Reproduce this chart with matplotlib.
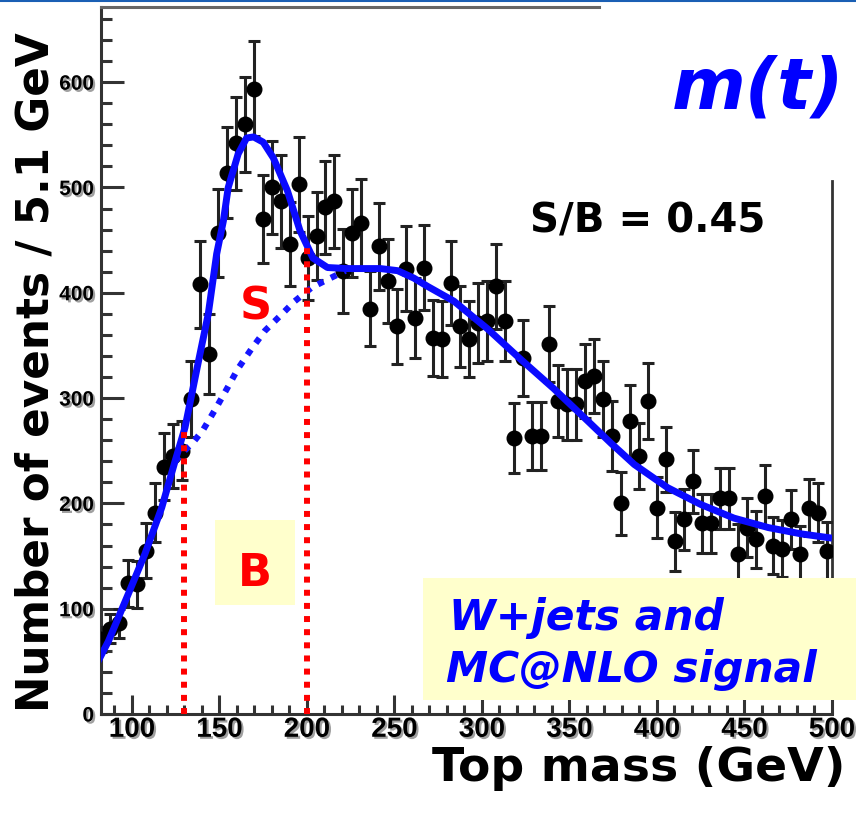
import numpy as np
import matplotlib
matplotlib.use("Agg")
import matplotlib.pyplot as plt
from matplotlib.patches import Rectangle
from matplotlib.lines import Line2D
from matplotlib.ticker import MultipleLocator
import matplotlib.patheffects as pe

# ---------------- data ----------------
# reconstructed top-quark mass, 82 bins of 5.12 GeV from 80 to 500 GeV
M_LO = 80.0
BIN_W = 5.12
counts = [71, 81, 86, 124, 123, 155, 191, 235, 245, 250,
          299, 408, 342, 457, 514, 542, 560, 594, 470, 500,
          487, 446, 503, 433, 454, 481, 487, 421, 457, 466,
          385, 444, 411, 368, 423, 376, 424, 357, 356, 409,
          368, 356, 371, 373, 406, 373, 262, 338, 264, 264,
          351, 297, 294, 294, 316, 321, 299, 264, 200, 278,
          245, 297, 196, 242, 164, 185, 221, 181, 181, 205,
          205, 152, 177, 166, 207, 160, 157, 185, 152, 196,
          191, 155]
errors = [12, 14, 14, 22, 22, 26, 28, 32, 30, 28,
          36, 41, 38, 42, 43, 44, 45, 45, 42, 44,
          44, 40, 45, 40, 42, 44, 44, 40, 42, 42,
          36, 41, 40, 36, 40, 38, 40, 36, 36, 40,
          38, 36, 38, 38, 40, 38, 33, 36, 32, 32,
          36, 34, 34, 34, 35, 35, 36, 33, 30, 34,
          31, 36, 29, 31, 28, 29, 30, 28, 28, 29,
          29, 28, 28, 27, 29, 27, 27, 28, 27, 27,
          28, 27]

# fitted signal + background
total_mass = [80, 86.5, 97.9, 107.4, 117, 124.6, 130.3, 138, 143.6, 148.4,
              152.2, 155, 160.7, 165.5, 169.5, 175, 180.8, 188.8, 196, 203.4,
              211.7, 223, 242, 251.8, 261, 269, 284, 303, 322, 341,
              360.6, 373.8, 387, 406, 425, 444, 463.7, 482.6, 500]
total_evts = [48, 69, 114, 152, 196, 240, 272, 335, 380, 437,
              468, 500, 532, 547, 548, 543, 528, 497, 459, 433,
              424, 423, 423, 421, 414, 406, 392, 366, 337, 309,
              278, 257, 237, 215, 199, 186, 177, 171, 167]

# W+jets background alone (where it separates from the total)
bkg_mass = [124.6, 130, 135, 140.7, 147.5, 154.3, 160.6, 168.4, 176, 184.6,
            193, 202.7, 212.2, 222]
bkg_evts = [240, 250, 258, 270, 289, 309, 328, 347, 364, 378,
            392, 405, 413, 421]

# signal window
window = [130, 200]

x_ticks = [100, 150, 200, 250, 300, 350, 400, 450, 500]
y_ticks = [0, 100, 200, 300, 400, 500, 600]

# ---------------- figure ----------------
W, H = 856, 814
fig = plt.figure(figsize=(W / 100, H / 100), dpi=100)
fig.patch.set_facecolor("white")


def fx(px):
    return px / W


def fy(py):
    return (H - py) / H


ax = fig.add_axes([fx(101), fy(714), (832 - 101) / W, (714 - 7) / H])
ax.set_xlim(82.3, 500)
ax.set_ylim(0, 671.4)

tick_family = "Liberation Sans"

ax.xaxis.set_minor_locator(MultipleLocator(10))
ax.yaxis.set_minor_locator(MultipleLocator(20))
ax.set_xticks(x_ticks)
ax.set_yticks(y_ticks)

axis_col = "#333333"
ax.tick_params(axis="x", which="major", direction="in", length=14, width=2.2,
               color=axis_col, pad=2, top=False)
ax.tick_params(axis="x", which="minor", direction="in", length=6.5, width=2.2,
               color=axis_col, top=False)
ax.tick_params(axis="y", which="major", direction="in", length=16.5, width=2.2,
               color=axis_col, pad=5, right=False)
ax.tick_params(axis="y", which="minor", direction="in", length=8, width=2.2,
               color=axis_col, right=False)

shadow = [pe.SimplePatchShadow(offset=(1.5, -1.5), shadow_rgbFace="#888888", alpha=0.8),
          pe.Normal()]
for lab in ax.get_xticklabels():
    lab.set_fontfamily(tick_family)
    lab.set_fontweight("bold")
    lab.set_fontsize(20)
    lab.set_path_effects(shadow)
for lab in ax.get_yticklabels():
    lab.set_fontfamily(tick_family)
    lab.set_fontweight("bold")
    lab.set_fontsize(15)
    lab.set_path_effects(shadow)

for side in ("left", "bottom"):
    ax.spines[side].set_color(axis_col)
    ax.spines[side].set_linewidth(2.2)
ax.spines["top"].set_color("#666666")
ax.spines["top"].set_linewidth(2.2)
ax.spines["top"].set_bounds(82.3, 367)
ax.spines["right"].set_color(axis_col)
ax.spines["right"].set_linewidth(2.0)
ax.spines["right"].set_bounds(0, 506)

# data points
centers = M_LO + BIN_W * (np.arange(len(counts)) + 0.5)
ax.errorbar(centers, counts, yerr=errors, fmt="o", color="black", ms=10.5,
            ecolor="#222222", elinewidth=2.2, capsize=4.5, capthick=2.2,
            zorder=3)

# fit curves
ax.plot(bkg_mass, bkg_evts, color="#1515ff", lw=4.5, linestyle=(0, (1, 1.3)),
        dash_capstyle="butt", zorder=4)
ax.plot(total_mass, total_evts, color="#0a0aff", lw=5, solid_capstyle="butt",
        zorder=4)

# signal window boundaries
for m in window:
    top = np.interp(m, total_mass, total_evts)
    ax.plot([m, m], [0, top], color="#ff0000", lw=4.3, linestyle=(0, (1, 1.2)),
            dash_capstyle="butt", zorder=5)

# ---------------- annotations ----------------
fig.add_artist(Line2D([0, 1], [1 - 0.8 / H, 1 - 0.8 / H], transform=fig.transFigure,
                      color="#1a5fb4", lw=1.5))

fig.patches.append(Rectangle((fx(215), fy(605)), 80 / W, 85 / H, transform=fig.transFigure,
                             facecolor="#ffffcc", edgecolor="none", zorder=2))
fig.patches.append(Rectangle((fx(423), fy(700)), (W - 423) / W, 122 / H,
                             transform=fig.transFigure, facecolor="#ffffcc",
                             edgecolor="none", zorder=2))

fig.text(fx(256), fy(320), "S", color="#ff0000", fontsize=32, fontweight="bold",
         ha="center", va="baseline", zorder=6)
fig.text(fx(255), fy(586), "B", color="#ff0000", fontsize=32, fontweight="bold",
         ha="center", va="baseline", zorder=6)
fig.text(fx(530), fy(233), "S/B = 0.45", color="black", fontsize=29,
         fontweight="bold", ha="left", va="baseline", zorder=6)
fig.text(fx(672), fy(108), "m(t)", color="#0000ff", fontsize=51,
         fontweight="bold", style="italic", ha="left", va="baseline", zorder=6)
fig.text(fx(449), fy(630), "W+jets and", color="#0000ff", fontsize=30.5,
         fontweight="bold", style="italic", ha="left", va="baseline", zorder=6)
fig.text(fx(446), fy(682), "MC@NLO signal", color="#0000ff", fontsize=30.5,
         fontweight="bold", style="italic", ha="left", va="baseline", zorder=6)

fig.text(fx(432), fy(781), "Top mass (GeV)", color="black", fontsize=34,
         fontweight="bold", ha="left", va="baseline")
fig.text(fx(36), fy(372), "Number of events / 5.1 GeV", color="black",
         fontsize=31.5, fontweight="bold", rotation=90, ha="center", va="center",
         zorder=6)

fig.savefig("out.png", dpi=100, facecolor="white")
